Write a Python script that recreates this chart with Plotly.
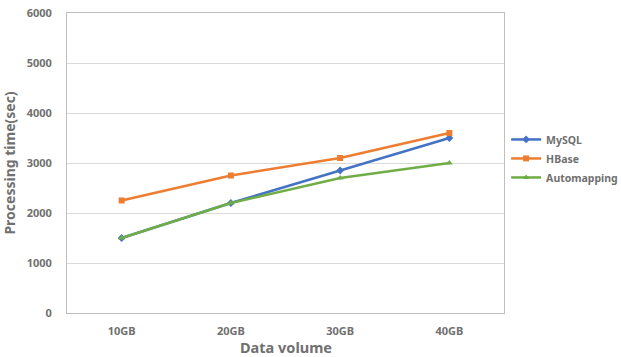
import plotly.graph_objects as go

categories = ["10GB", "20GB", "30GB", "40GB"]
mysql = [1500, 2200, 2850, 3500]
hbase = [2250, 2750, 3100, 3600]
automapping = [1500, 2200, 2700, 3000]
y_ticks = [0, 1000, 2000, 3000, 4000, 5000, 6000]

font_family = "Noto Sans"
gray = "#707070"

fig = go.Figure()
series = [
    ("MySQL", mysql, "#4472C4", "diamond"),
    ("HBase", hbase, "#ED7D31", "square"),
    ("Automapping", automapping, "#70AD47", "triangle-up"),
]
for name, vals, color, sym in series:
    fig.add_trace(go.Scatter(
        x=categories, y=vals, name=name, mode="lines+markers",
        line=dict(color=color, width=2.5),
        marker=dict(color=color, size=6, symbol=sym),
    ))

fig.add_annotation(
    text="Data volume", xref="paper", yref="paper",
    x=0.5, y=-0.112, xanchor="center", yanchor="middle", showarrow=False,
    font=dict(size=14.5, color=gray, family=font_family, weight="bold"),
)

fig.update_layout(
    width=621, height=357,
    margin=dict(l=67, r=117, t=13, b=44, autoexpand=False),
    paper_bgcolor="white", plot_bgcolor="white",
    font=dict(family=font_family, color=gray, size=10),
    legend=dict(
        xref="container", yref="container",
        x=0.815, y=0.65, xanchor="left", yanchor="top",
        font=dict(size=10.5, color=gray, family=font_family, weight="bold"),
        tracegroupgap=0, itemwidth=30,
        bgcolor="rgba(0,0,0,0)",
    ),
    xaxis=dict(
        type="category", range=[-0.5, 3.5], automargin=False,
        showgrid=False, showline=True, linecolor="#bfbfbf", linewidth=1,
        mirror=True, ticks="", ticklabelstandoff=8,
        tickfont=dict(size=11, color=gray, family=font_family, weight="bold"),
    ),
    yaxis=dict(
        range=[0, 6000], tickvals=y_ticks, automargin=False,
        showgrid=True, gridcolor="#d9d9d9", gridwidth=1,
        showline=True, linecolor="#bfbfbf", linewidth=1, mirror=True,
        zeroline=False, ticks="", ticklabelstandoff=12,
        tickfont=dict(size=11, color=gray, family=font_family, weight="bold"),
        title=dict(text="Processing time(sec)", standoff=8,
                   font=dict(size=14, color=gray, family=font_family, weight="bold")),
    ),
    showlegend=True,
)

fig.write_html("out.html")
